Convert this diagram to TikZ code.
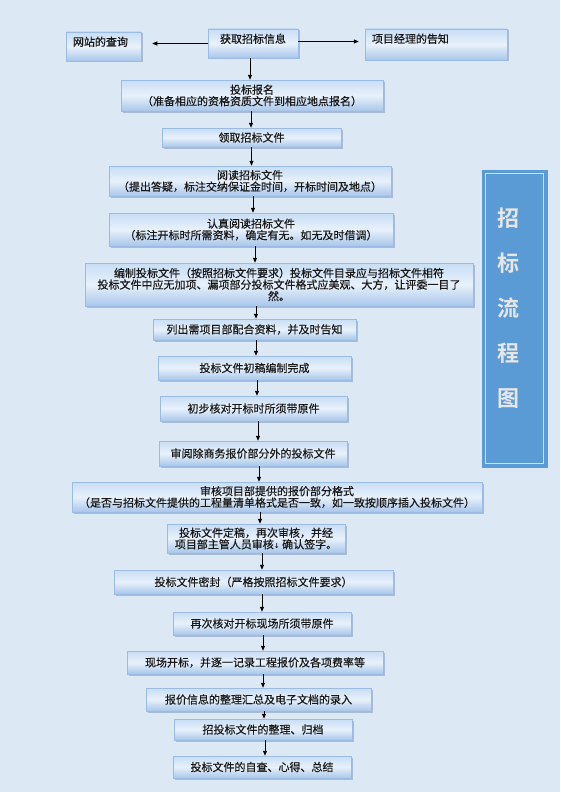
\documentclass[tikz,border=0pt]{standalone}
\usepackage{fontspec}
\newfontfamily\cjk{Noto Sans CJK SC}[RawFeature={embolden=0.5}]
\newfontfamily\cjkb{Noto Sans CJK SC Bold}
\newfontfamily\dejavu{DejaVu Sans Bold}
\usetikzlibrary{arrows.meta,shadows}
\definecolor{bg}{RGB}{221,232,245}
\definecolor{boxtop}{RGB}{200,221,245}
\definecolor{boxmid}{RGB}{232,241,251}
\definecolor{boxbot}{RGB}{168,198,234}
\definecolor{boxline}{RGB}{155,188,226}
\definecolor{shadowc}{RGB}{135,160,195}
\definecolor{txt}{RGB}{25,25,25}
\definecolor{bannerfill}{RGB}{91,155,213}
\definecolor{bannerline}{RGB}{205,225,246}
\definecolor{bannertxt}{RGB}{230,230,230}
\begin{document}
\begin{tikzpicture}[x=1pt,y=-1pt,
  box/.style={rectangle, draw=boxline, line width=0.5pt,
    top color=boxtop, bottom color=boxbot, middle color=boxmid,
    drop shadow={shadow xshift=1.5pt, shadow yshift=-1.5pt, fill=shadowc, opacity=0.6},
    inner sep=0pt, align=center, text=txt,
    font=\cjk\fontsize{11}{11.5}\selectfont},
  lbl/.style={inner sep=0pt, text=txt, font=\cjk\fontsize{11}{11.5}\selectfont},
  arr/.style={draw=black, line width=0.8pt, -{Triangle[length=5pt,width=4pt]}},
  banner/.style={rectangle, fill=bannerfill, draw=bannerfill, inner sep=0pt},
  bannertext/.style={inner sep=0pt, align=center, text=bannertxt,
    font=\cjkb\fontsize{22}{45}\selectfont}
]
% background
\fill[bg] (0,0) rectangle (560,792);
\useasboundingbox (0,0) rectangle (560,792);

% top row
\node[box, minimum width=75pt, minimum height=29pt] (web) at (103.5,46.5) {};
\node[lbl, anchor=west] (webt) at ([xshift=7pt,yshift=-10pt]web.north west) {网站的查询};
\node[box, minimum width=90pt, minimum height=29pt, text depth=10.3pt] (info) at (253,43.5) {获取招标信息};
\node[box, minimum width=142pt, minimum height=31pt] (pm) at (436,44.5) {};
\node[lbl, anchor=west] (pmt) at ([xshift=7pt,yshift=-10pt]pm.north west) {项目经理的告知};

% main chain
\node[box, minimum width=262pt, minimum height=31pt] (bm) at (252,95.5) {投标报名\\（准备相应的资格资质文件到相应地点报名）};
\node[box, minimum width=179pt, minimum height=19pt] (lq) at (251.5,137.5) {领取招标文件};
\node[box, minimum width=282pt, minimum height=30pt] (yd) at (250,181) {阅读招标文件\\（提出答疑，标注交纳保证金时间，开标时间及地点）};
\node[box, minimum width=284pt, minimum height=33pt] (rz) at (251,229.5) {认真阅读招标文件\\（标注开标时所需资料，确定有无。如无及时借调）};
\node[box, minimum width=388pt, minimum height=43pt] (bz) at (279,284.5) {编制投标文件（按照招标文件要求）投标文件目录应与招标文件相符\\投标文件中应无加项、漏项部分投标文件格式应美观、大方，让评委一目了\\然。};
\node[box, minimum width=203pt, minimum height=21pt] (lc) at (254.5,329.5) {列出需项目部配合资料，并及时告知};
\node[box, minimum width=193pt, minimum height=24pt] (cg) at (254.5,368) {投标文件初稿编制完成};
\node[box, minimum width=187pt, minimum height=25pt] (cb) at (253.5,408.5) {初步核对开标时所须带原件};
\node[box, minimum width=188pt, minimum height=25pt] (sy) at (253,453.5) {审阅除商务报价部分外的投标文件};
\node[box, minimum width=410pt, minimum height=30pt] (sh) at (277,497) {审核项目部提供的报价部分格式\\（是否与招标文件提供的工程量清单格式是否一致，如一致按顺序插入投标文件）};
\node[box, minimum width=178pt, minimum height=29pt] (dg) at (256,538.5) {投标文件定稿，再次审核，并经\\项目部主管人员审核{\dejavu\fontsize{7}{7}\selectfont ↓} 确认签字。};
\node[box, minimum width=279pt, minimum height=24pt] (mf) at (253.5,582) {投标文件密封（严格按照招标文件要求）};
\node[box, minimum width=178pt, minimum height=23pt] (zc) at (262,623.5) {再次核对开标现场所须带原件};
\node[box, minimum width=256pt, minimum height=23pt] (xc) at (255,662.5) {现场开标，并逐一记录工程报价及各项费率等};
\node[box, minimum width=225pt, minimum height=23pt] (bj) at (258.5,699.5) {报价信息的整理汇总及电子文档的录入};
\node[box, minimum width=178pt, minimum height=21pt] (zl) at (263,729.5) {招投标文件的整理、归档};
\node[box, minimum width=178pt, minimum height=22pt] (zj) at (262,767) {投标文件的自查、心得、总结};

% connectors
\draw[arr] (info.west) -- ([xshift=11pt]info.west -| web.east);
\draw[arr] ([yshift=2pt]info.east) -- ([xshift=-6pt,yshift=2pt]info.east -| pm.west);
\draw[arr] ([xshift=-3pt]info.south) -- ([xshift=-3pt]info.south |- bm.north);
\draw[arr] ([xshift=-1pt]bm.south) -- ([xshift=-1pt]bm.south |- lq.north);
\draw[arr] ([xshift=0pt]lq.south) -- ([xshift=0pt]lq.south |- yd.north);
\draw[arr] ([xshift=3pt]yd.south) -- ([xshift=3pt]yd.south |- rz.north);
\draw[arr] ([xshift=4pt]rz.south) -- ([xshift=4pt]rz.south |- bz.north);
\draw[arr] ([xshift=-23pt]bz.south) -- ([xshift=-23pt]bz.south |- lc.north);
\draw[arr] ([xshift=1.5pt]lc.south) -- ([xshift=1.5pt]lc.south |- cg.north);
\draw[arr] ([xshift=2.5pt]cg.south) -- ([xshift=2.5pt]cg.south |- cb.north);
\draw[arr] ([xshift=4.5pt]cb.south) -- ([xshift=4.5pt]cb.south |- sy.north);
\draw[arr] ([xshift=6pt]sy.south) -- ([xshift=6pt]sy.south |- sh.north);
\draw[arr] ([xshift=-17pt]sh.south) -- ([xshift=-17pt]sh.south |- dg.north);
\draw[arr] ([xshift=6pt]dg.south) -- ([xshift=6pt]dg.south |- mf.north);
\draw[arr] ([xshift=8.5pt]mf.south) -- ([xshift=8.5pt]mf.south |- zc.north);
\draw[arr] ([xshift=1pt]zc.south) -- ([xshift=1pt]zc.south |- xc.north);
\draw[arr] ([xshift=8pt]xc.south) -- ([xshift=8pt]xc.south |- bj.north);
\draw[arr] ([xshift=5.5pt]bj.south) -- ([xshift=5.5pt]bj.south |- zl.north);
\draw[arr] ([xshift=2pt]zl.south) -- ([xshift=2pt]zl.south |- zj.north);

% side banner
\node[banner, minimum width=65pt, minimum height=297pt] (bn) at (514.5,318.5) {};
\draw[bannerline, line width=1.2pt] ([shift={(3.5pt,-3.5pt)}]bn.north west) rectangle ([shift={(-3.5pt,3.5pt)}]bn.south east);
\node[bannertext] (bt) at (508,308) {招\\标\\流\\程\\图};
\end{tikzpicture}
\end{document}
